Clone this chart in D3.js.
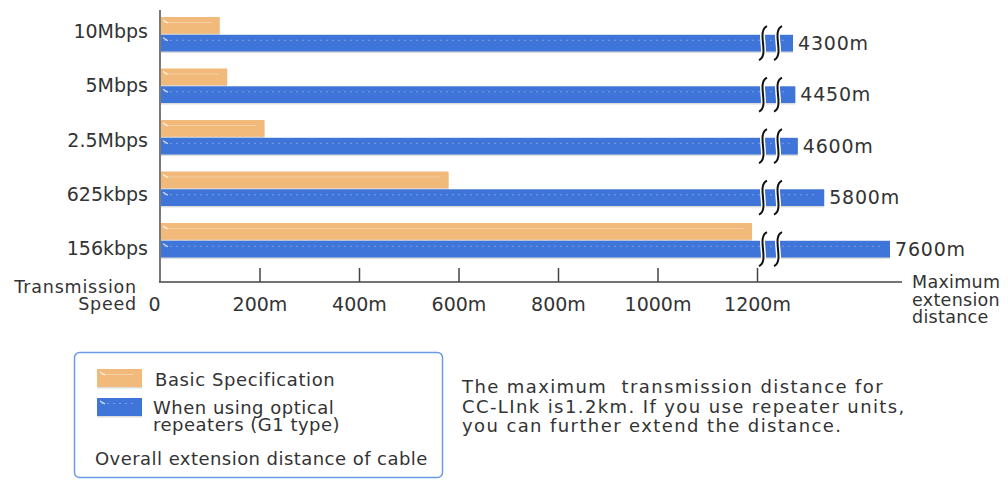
<!DOCTYPE html>
<html>
<head>
<meta charset="utf-8">
<script src="https://cdn.jsdelivr.net/npm/d3@7"></script>
<style>
  html, body { margin: 0; padding: 0; background: #fff; }
  svg { display: block; font-family: "DejaVu Sans", sans-serif; }
  text { fill: #333; }
</style>
</head>
<body>
<svg id="chart" width="1008" height="480"></svg>
<script>
// Transmission speeds and maximum cable distances (metres)
const speeds = ["10Mbps", "5Mbps", "2.5Mbps", "625kbps", "156kbps"];
const basicSpec = [120, 135, 210, 580, 1190];
const withRepeaters = [4300, 4450, 4600, 5800, 7600];
const tickValues = [0, 200, 400, 600, 800, 1000, 1200];
const legendBasic = ["Basic Specification"];
const legendRepeater = ["When using optical", "repeaters (G1 type)"];
const legendFooter = "Overall extension distance of cable";
const noteLines = [
  "The maximum  transmission distance for",
  "CC-LInk is1.2km. If you use repeater units,",
  "you can further extend the distance."
];
const yAxisTitle = ["Transmission", "Speed"];
const xAxisTitle = ["Maximum", "extension", "distance"];

const ORANGE = "#f2ba7a";
const BLUE = "#3f74d8";

const svg = d3.select("#chart");

// Main (unbroken) distance scale and the compressed scale past the axis break
const x = d3.scaleLinear().domain([0, 1200]).range([160, 757]);
const xTail = d3.scalePow().exponent(3).domain([4300, 7600]).range([793, 890]);
const xAny = v => (v <= 1200 ? x(v) : xTail(v));

const y = d3.scaleBand().domain(speeds).range([17, 257.5]).paddingInner(0.33);
const inner = d3.scaleBand().domain(["basic", "repeater"]).range([0, y.bandwidth()]).paddingInner(0.06);
const yLabel = d3.scalePoint().domain(speeds).range([38, 255]);

const rows = speeds.map((s, i) => ({ speed: s, basic: basicSpec[i], repeater: withRepeaters[i] }));

// Bars with a soft shadow, a faint highlight stripe and a small start glint
function drawBar(g, x0, x1, y0, h, color, dotted) {
  g.append("rect").attr("x", x0).attr("y", y0 + 1.5).attr("width", x1 - x0).attr("height", h)
    .attr("fill", "#9a9a9a").attr("opacity", 0.35);
  g.append("rect").attr("x", x0).attr("y", y0).attr("width", x1 - x0).attr("height", h).attr("fill", color);
  g.append("line").attr("x1", x0 + 4).attr("x2", Math.max(x0 + 4, x1 - 8))
    .attr("y1", y0 + 5.5).attr("y2", y0 + 5.5)
    .attr("stroke", "#fff").attr("stroke-opacity", 0.3).attr("stroke-width", 1)
    .attr("stroke-dasharray", dotted ? "2,4" : null);
  g.append("line").attr("x1", x0 + 3).attr("x2", x0 + 8).attr("y1", y0 + 3).attr("y2", y0 + 6)
    .attr("stroke", "#fff").attr("stroke-opacity", 0.8).attr("stroke-width", 1.2);
}

const barsG = svg.append("g");
rows.forEach(r => {
  const top = y(r.speed);
  drawBar(barsG, x(0), xAny(r.basic), top + inner("basic"), inner.bandwidth(), ORANGE, false);
  drawBar(barsG, x(0), xAny(r.repeater), top + inner("repeater"), inner.bandwidth(), BLUE, true);
});

// Axis break marks across each repeater bar
const breakXs = [x(1200) + 6, x(1200) + 21];
rows.forEach(r => {
  const cy = y(r.speed) + inner("repeater") + inner.bandwidth() / 2;
  breakXs.forEach(bx => {
    const d = `M${bx + 4},${cy - 17} C${bx - 7},${cy - 12} ${bx + 7},${cy + 12} ${bx - 4},${cy + 17}`;
    barsG.append("path").attr("d", d).attr("fill", "none").attr("stroke", "#fff").attr("stroke-width", 5);
    barsG.append("path").attr("d", d).attr("fill", "none").attr("stroke", "#111").attr("stroke-width", 2);
  });
});

// Value labels for the repeater bars
svg.append("g").selectAll("text").data(rows).join("text")
  .attr("x", d => xTail(d.repeater) + 5)
  .attr("y", d => y(d.speed) + inner("repeater") + inner.bandwidth() / 2)
  .attr("dy", "0.36em")
  .attr("font-size", 19).attr("letter-spacing", 0.8)
  .text(d => d.repeater + "m");

// Category labels
svg.append("g").selectAll("text").data(speeds).join("text")
  .attr("x", 148).attr("y", d => yLabel(d))
  .attr("text-anchor", "end").attr("font-size", 19)
  .text(d => d);

// Axis lines
svg.append("line").attr("x1", 160).attr("x2", 160).attr("y1", 10).attr("y2", 282)
  .attr("stroke", "#7a7a7a").attr("stroke-width", 2);
svg.append("line").attr("x1", 159).attr("x2", 902).attr("y1", 282).attr("y2", 282)
  .attr("stroke", "#444").attr("stroke-width", 1.6);

const xAxis = d3.axisBottom(x).tickValues(tickValues).tickSize(-14).tickPadding(16)
  .tickFormat(d => (d === 0 ? "0" : d + "m"));
const axG = svg.append("g").attr("transform", "translate(0,282)").call(xAxis);
axG.select(".domain").remove();
axG.selectAll(".tick line").attr("stroke", "#444").attr("stroke-width", 1.5)
  .filter(d => d === 0).remove();
axG.selectAll(".tick text").attr("font-size", 19).attr("font-family", "DejaVu Sans, sans-serif")
  .attr("fill", "#333").attr("dx", d => (d === 0 ? -6 : 0));

// Axis titles
svg.append("g").selectAll("text").data(yAxisTitle).join("text")
  .attr("x", 137).attr("y", (d, i) => 293 + i * 17)
  .attr("text-anchor", "end").attr("font-size", 17.5).attr("letter-spacing", 0.8).attr("fill", "#444")
  .text(d => d);
svg.append("g").selectAll("text").data(xAxisTitle).join("text")
  .attr("x", 912).attr("y", (d, i) => 288 + i * 17.5)
  .attr("font-size", 17.5).attr("letter-spacing", 0.3).attr("fill", "#444")
  .text(d => d);

// Legend
const lg = svg.append("g");
lg.append("rect").attr("x", 74.5).attr("y", 352.5).attr("width", 368).attr("height", 125)
  .attr("rx", 5).attr("fill", "#fff").attr("stroke", "#6d9ae6").attr("stroke-width", 1.5);
drawBar(lg, 97, 142, 369, 18, ORANGE, false);
drawBar(lg, 97, 142, 398, 18, BLUE, true);
lg.selectAll("text.basic").data(legendBasic).join("text").attr("class", "basic")
  .attr("x", 155).attr("y", 386).attr("font-size", 18).attr("letter-spacing", 0.6).text(d => d);
lg.selectAll("text.rep").data(legendRepeater).join("text").attr("class", "rep")
  .attr("x", 153).attr("y", (d, i) => 414 + i * 17).attr("font-size", 18).attr("letter-spacing", 0.5).text(d => d);
lg.append("text").attr("x", 95).attr("y", 465).attr("font-size", 18).attr("letter-spacing", 0.45).text(legendFooter);

// Explanatory note
svg.append("g").selectAll("text").data(noteLines).join("text")
  .attr("x", 462).attr("y", (d, i) => 393 + i * 19.5)
  .attr("font-size", 18).attr("letter-spacing", 1.4).style("white-space", "pre")
  .text(d => d);
</script>
</body>
</html>
